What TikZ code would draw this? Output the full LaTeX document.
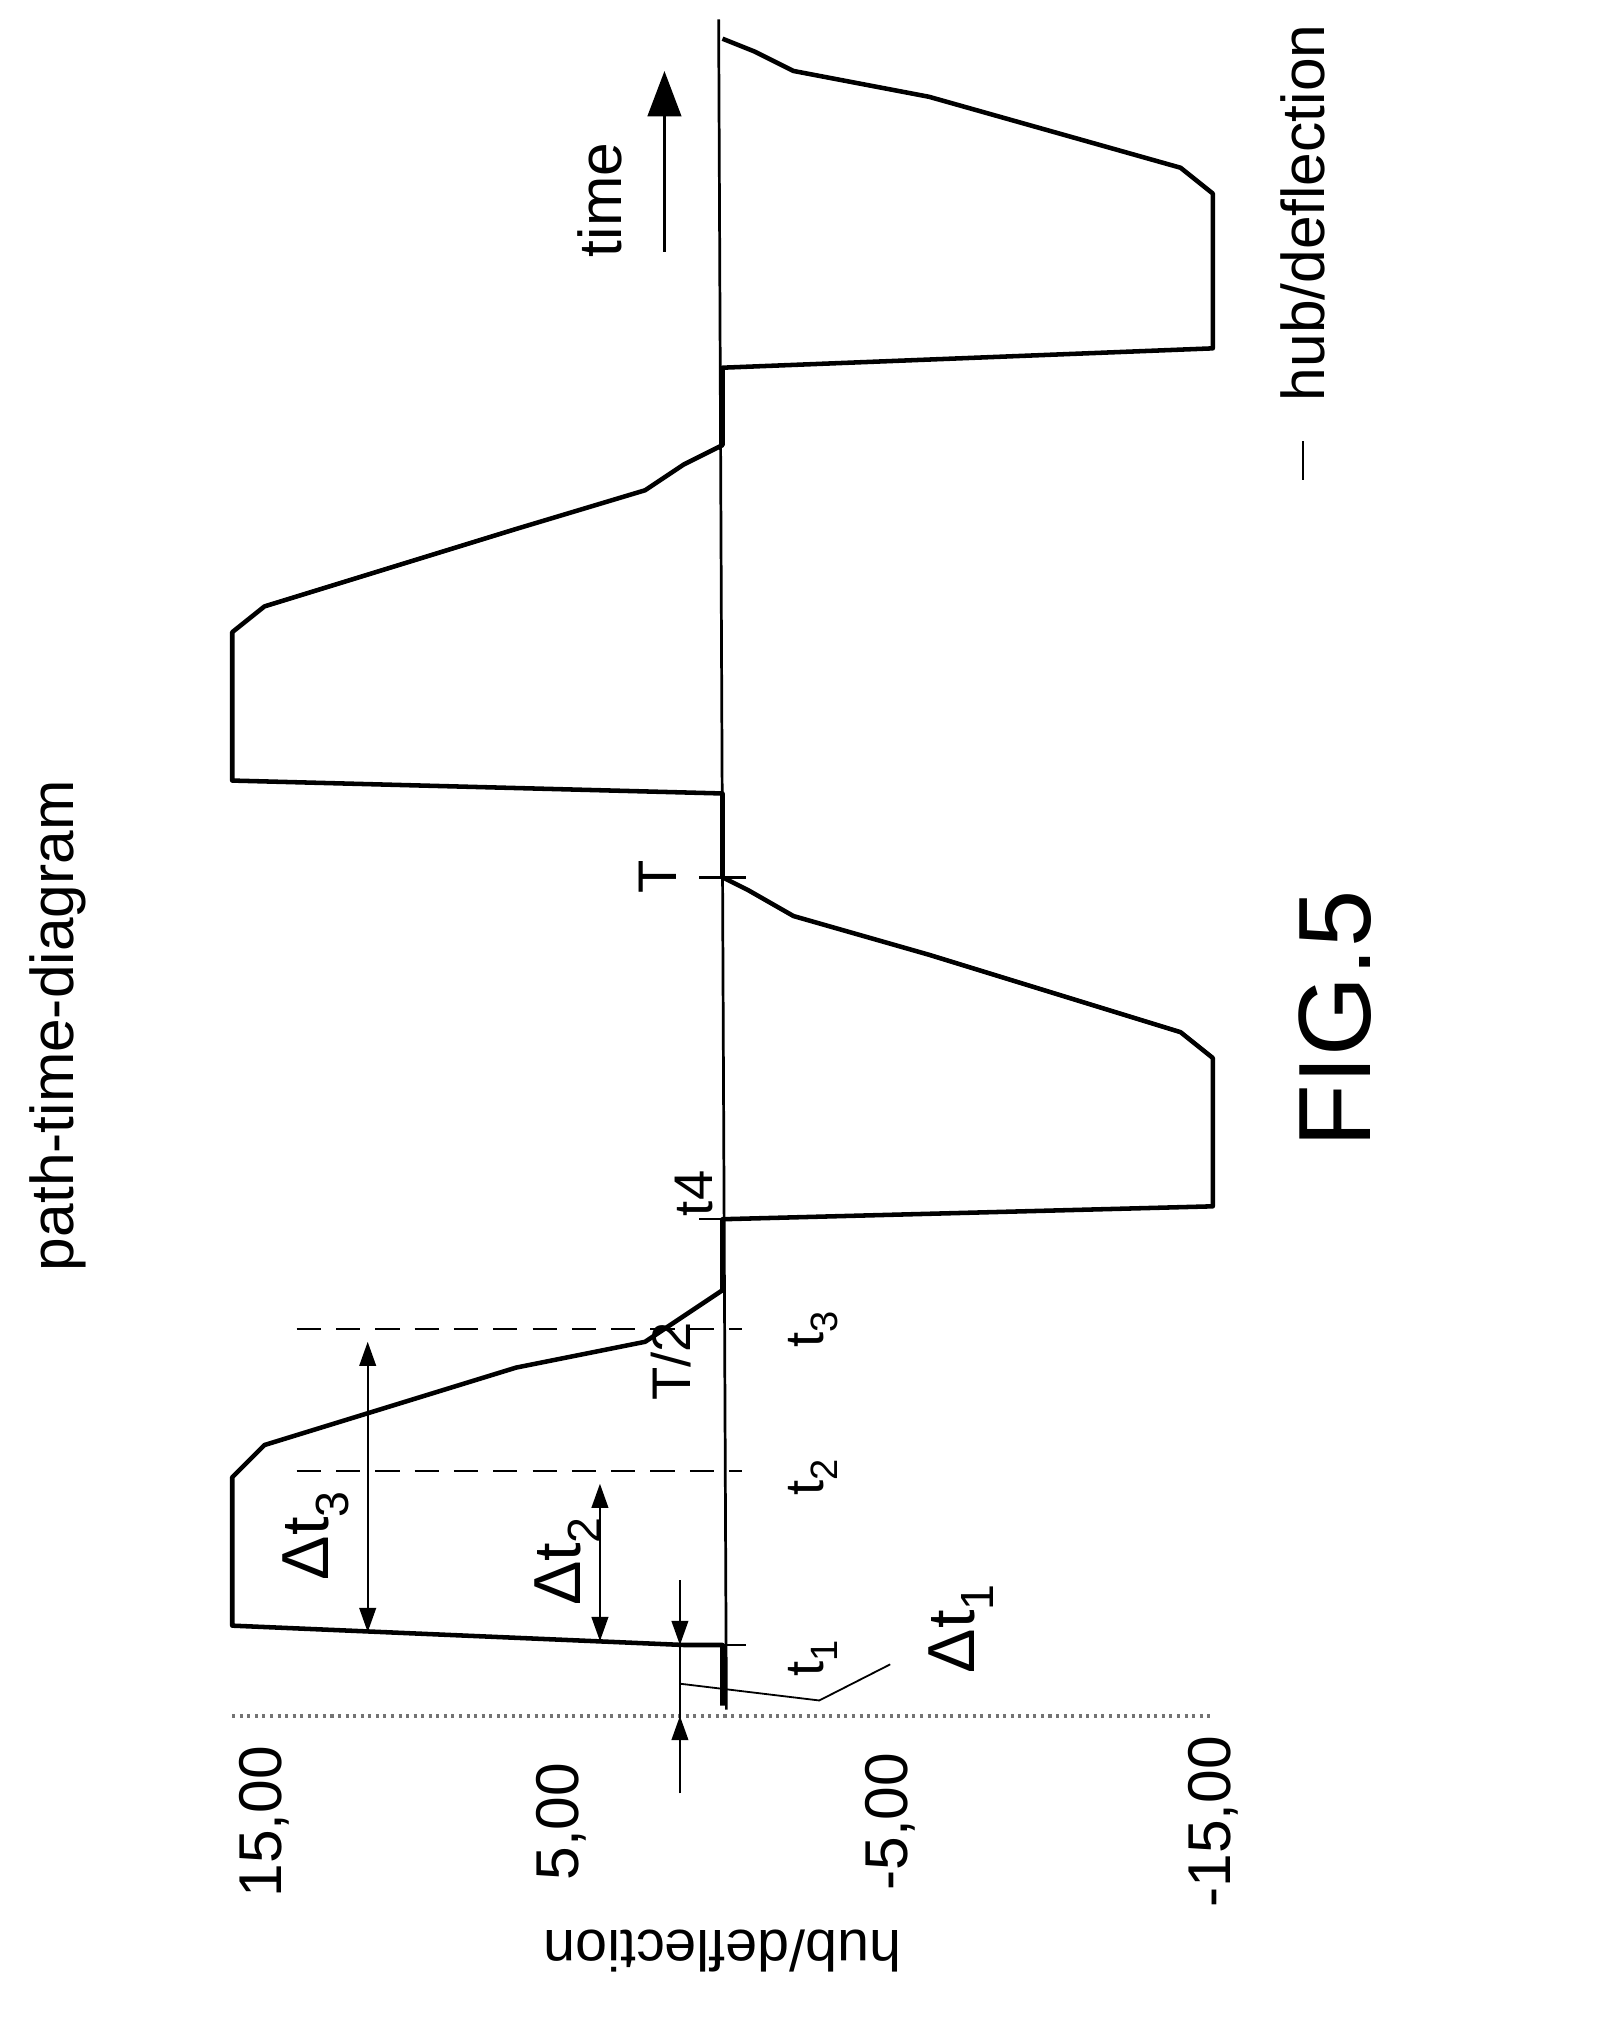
\documentclass[tikz,border=0pt]{standalone}
\usepackage{fontspec}
\setmainfont{Liberation Sans}
\usetikzlibrary{arrows.meta,positioning}
\tikzset{
  curve/.style={line width=3pt,line join=round},
  lbl/.style={rotate=90,font=\fontsize{36}{40}\selectfont,inner sep=1pt},
  dim/.style={line width=1.4pt,{Triangle[length=16pt,width=11pt]}-{Triangle[length=16pt,width=11pt]}},
  tick/.style={line width=1.6pt}
}
\begin{document}
\begin{tikzpicture}[x=0.03cm,y=-0.03cm]
  \useasboundingbox (0,0) rectangle (1240,1568);
  % axis and grid
  \draw[line width=1.8pt] (563,1325) -- (557,15);
  \draw[black!55,line width=3pt,dash pattern=on 2pt off 3pt] (180,1330) -- (940,1330);
  % signal
  \draw[curve] (560,1322) -- (560,1275) -- (530,1275) -- (180,1260) -- (180,1145)
    -- (205,1120) -- (400,1060) -- (500,1040) -- (530,1020) -- (560,1000)
    -- (560,945) -- (940,935) -- (940,820) -- (915,800) -- (720,740)
    -- (615,710) -- (580,690) -- (560,680) -- (560,615) -- (180,605)
    -- (180,490) -- (205,470) -- (400,410) -- (500,380) -- (530,360)
    -- (560,345) -- (560,285) -- (940,270) -- (940,150) -- (915,130)
    -- (720,75) -- (615,55) -- (585,40) -- (560,30);
  % dashed markers
  \draw[dash pattern=on 16pt off 10pt,line width=1.6pt] (230,1140) -- (575,1140);
  \draw[dash pattern=on 16pt off 10pt,line width=1.6pt] (230,1030) -- (575,1030);
  \foreach \ty in {1275,945,680} \draw[tick] (542,\ty) -- (578,\ty);
  % dimension arrows
  \coordinate (d3a) at (285,1040); \coordinate (d3b) at (285,1265);
  \draw[dim] (d3a) -- (d3b);
  \coordinate (d2a) at (465,1150); \coordinate (d2b) at (465,1272);
  \draw[dim] (d2a) -- (d2b);
  \coordinate (d1a) at (527,1225); \coordinate (d1b) at (527,1390);
  \draw[line width=1.4pt] (d1a) -- (d1b);
  \draw[line width=1.4pt,-{Triangle[length=16pt,width=11pt]}] (527,1240) -- (527,1275);
  \draw[line width=1.4pt,-{Triangle[length=16pt,width=11pt]}] (527,1390) -- (527,1330);
  \draw[line width=1.2pt] (527,1305) -- (635,1318) -- (690,1290);
  % labels
  \node[lbl] (nd3) at (245,1190) {\fontsize{44}{48}\selectfont Δt\textsubscript{3}};
  \node[lbl] (nd2) at (440,1210) {\fontsize{44}{48}\selectfont Δt\textsubscript{2}};
  \node[lbl] (nd1) at (745,1262) {\fontsize{44}{48}\selectfont Δt\textsubscript{1}};
  \node[lbl] (nt1) at (630,1285) {t\textsubscript{1}};
  \node[lbl] (nt2) at (630,1145) {t\textsubscript{2}};
  \node[lbl] (nt3) at (630,1030) {t\textsubscript{3}};
  \node[lbl] (nhalf) at (520,1055) {T/2};
  \node[lbl] (nt4) at (538,925) {t4};
  \node[lbl] (nT) at (510,680) {T};
  \node[lbl,font=\fontsize{40}{44}\selectfont] (y15) at (205,1412) {15,00};
  \node[lbl,font=\fontsize{40}{44}\selectfont] (y5) at (435,1412) {5,00};
  \node[lbl,font=\fontsize{40}{44}\selectfont] (ym5) at (690,1412) {-5,00};
  \node[lbl,font=\fontsize{40}{44}\selectfont] (ym15) at (940,1412) {-15,00};
  \node[lbl,rotate=90,font=\fontsize{38}{42}\selectfont] (ylab) at (560,1512) {hub/deflection};
  \node[lbl,font=\fontsize{40}{44}\selectfont] (title) at (45,795) {path-time-diagram};
  \draw[line width=1.6pt] (1010,342) -- (1010,372);
  \node[lbl,font=\fontsize{40}{44}\selectfont] (legend) at (1010,165) {hub/deflection};
  \node[lbl,font=\fontsize{40}{44}\selectfont] (timelbl) at (465,155) {time};
  \coordinate (ta) at (515,195); \coordinate (tb) at (515,55);
  \draw[line width=2.4pt,-{Triangle[length=30pt,width=22pt]}] (ta) -- (tb);
  \node[rotate=90,font=\fontsize{68}{76}\selectfont] (fig) at (1035,790) {FIG.5};
\end{tikzpicture}
\end{document}
